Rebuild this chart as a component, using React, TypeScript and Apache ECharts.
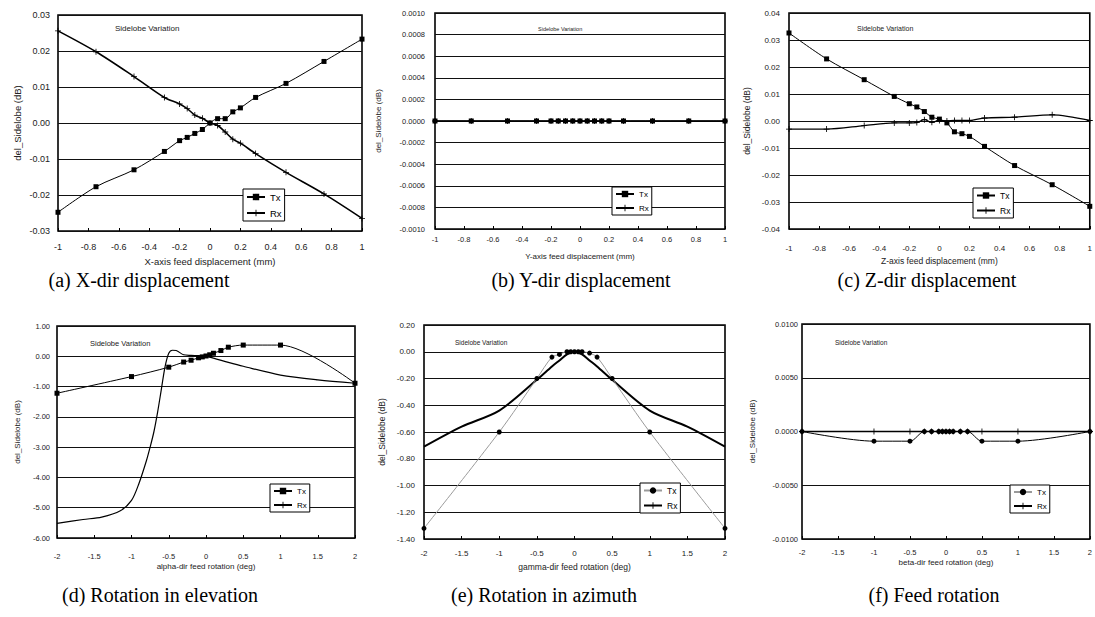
import React, { useEffect, useRef } from 'react';
import * as echarts from 'echarts';

// ---------- data ----------
const xDisp = [-1, -0.75, -0.5, -0.3, -0.2, -0.15, -0.1, -0.05, 0, 0.05, 0.1, 0.15, 0.2, 0.3, 0.5, 0.75, 1];
const aTx = [-0.0248, -0.0177, -0.013, -0.0079, -0.0049, -0.004, -0.0029, -0.0018, 0.0, 0.0012, 0.0012, 0.0031, 0.0042, 0.0071, 0.011, 0.0171, 0.0233];
const aRx = [0.0256, 0.0198, 0.0129, 0.0071, 0.0053, 0.004, 0.0022, 0.0013, 0.0, -0.0007, -0.0025, -0.0045, -0.0056, -0.0085, -0.0137, -0.0197, -0.0265];
const bTx = [0, 0, 0, 0, 0, 0, 0, 0, 0, 0, 0, 0, 0, 0, 0, 0, 0];
const bRx = [0, 0, 0, 0, 0, 0, 0, 0, 0, 0, 0, 0, 0, 0, 0, 0, 0];
const cTx = [0.0326, 0.023, 0.0153, 0.0091, 0.0064, 0.0052, 0.0035, 0.0014, 0.0007, -0.0007, -0.004, -0.0047, -0.0057, -0.0094, -0.0165, -0.0236, -0.0316];
const cRx = [-0.003, -0.003, -0.0017, -0.0007, -0.0007, -0.0006, 0.0005, -0.0005, 0.0002, 0.0, 0.0002, 0.0002, 0.0002, 0.0011, 0.0014, 0.0023, 0.0002];

const xRot = [-2, -1, -0.5, -0.3, -0.2, -0.1, -0.05, 0, 0.05, 0.1, 0.2, 0.3, 0.5, 1, 2];
const dTx = [-1.22, -0.67, -0.36, -0.19, -0.13, -0.05, -0.02, 0.01, 0.05, 0.1, 0.19, 0.3, 0.37, 0.37, -0.89];
const dRxX = [-2, -1.65, -1.4, -1.15, -1, -0.9, -0.8, -0.75, -0.7, -0.65, -0.6, -0.55, -0.5, -0.45, -0.4, -0.3, -0.2, -0.1, 0, 0.1, 0.3, 0.5, 1, 1.5, 2];
const dRx = [-5.52, -5.39, -5.31, -5.1, -4.76, -4.2, -3.45, -3.0, -2.5, -1.85, -1.1, -0.35, 0.1, 0.2, 0.19, 0.05, 0.03, 0.02, 0.0, -0.06, -0.2, -0.33, -0.62, -0.78, -0.89];
const eTx = [-1.32, -0.6, -0.2, -0.04, -0.02, 0, 0, 0, 0, 0, -0.01, -0.04, -0.2, -0.6, -1.32];
const eRxX = [-2, -1.5, -1, -0.5, -0.3, -0.2, -0.1, 0, 0.1, 0.2, 0.3, 0.5, 1, 1.5, 2];
const eRx = [-0.71, -0.56, -0.44, -0.21, -0.11, -0.065, -0.02, 0, -0.02, -0.065, -0.11, -0.21, -0.44, -0.56, -0.71];
const fTx = [0, -0.0009, -0.0009, 0, 0, 0, 0, 0, 0, 0, 0, 0, -0.0009, -0.0009, 0];
const fRx = [0, 0, 0, 0, 0, 0, 0, 0, 0, 0, 0, 0, 0, 0, 0];

const xTitles = [
  'X-axis feed displacement (mm)',
  'Y-axis feed displacement (mm)',
  'Z-axis feed displacement (mm)',
  'alpha-dir feed rotation (deg)',
  'gamma-dir feed rotation (deg)',
  'beta-dir feed rotation (deg)',
];
const yTitle = 'del_Sidelobe (dB)';
const captions = [
  '(a) X-dir displacement',
  '(b) Y-dir displacement',
  '(c) Z-dir displacement',
  '(d) Rotation in elevation',
  '(e) Rotation in azimuth',
  '(f) Feed rotation',
];
const noteText = 'Sidelobe Variation';

// ---------- layout ----------
const PLUS = 'path://M0,4.3H10V5.7H0ZM4.3,0H5.7V10H4.3Z';
const SANS = 'Liberation Sans';

const mk = (xs: number[], ys: number[]) => xs.map((x, i) => [x, ys[i]]);

const panels = [
  { grid: { left: 58, top: 15, width: 304, height: 216 }, x: [-1, 1, 0.2], y: [-0.03, 0.03, 0.01], dec: 2, font: 9, xlm: 11, ylm: 8, xng: 25, ytx: 18,
    legend: [243, 189], note: [115, 28, 8], cap: [139, 280],
    tx: mk(xDisp, aTx), rx: mk(xDisp, aRx), txSym: 'rect', txName: 'Tx', rxSym: true, txColor: '#000', rxW: 1.6 },
  { grid: { left: 435, top: 13, width: 290, height: 216 }, x: [-1, 1, 0.2], y: [-0.001, 0.001, 0.0002], dec: 4, font: 7.5, xlm: 6, ylm: 10, xng: 23, ytx: 378,
    legend: [612, 187], note: [538, 29, 5.5], cap: [581, 280],
    tx: mk(xDisp, bTx), rx: mk(xDisp, bRx), txSym: 'rect', txName: 'Tx', rxSym: true, txColor: '#000', rxW: 1.6 },
  { grid: { left: 789, top: 13, width: 303, height: 216 }, x: [-1, 1, 0.2], y: [-0.04, 0.04, 0.01], dec: 2, font: 8, xlm: 15, ylm: 9, xng: 27, ytx: 747,
    legend: [973, 188], note: [857, 28, 7], cap: [927, 280],
    tx: mk(xDisp, cTx), rx: mk(xDisp, cRx), txSym: 'rect', txName: 'Tx', rxSym: true, txColor: '#000', rxW: 1.3 },
  { grid: { left: 57, top: 326, width: 298, height: 212 }, x: [-2, 2, 0.5], y: [-6, 1, 1], dec: 2, font: 7.5, xlm: 14, ylm: 7, xng: 24, ytx: 17,
    legend: [270, 484], note: [90, 343, 7.5], cap: [160, 595],
    tx: mk(xRot, dTx), rx: mk(dRxX, dRx), txSym: 'rect', txName: 'Tx', rxSym: false, txColor: '#000', rxW: 1.2 },
  { grid: { left: 424, top: 325, width: 301, height: 214 }, x: [-2, 2, 0.5], y: [-1.4, 0.2, 0.2], dec: 2, font: 8, xlm: 10, ylm: 9, xng: 23, ytx: 382,
    legend: [640, 483], note: [455, 342, 6.5], cap: [544, 595],
    tx: mk(xRot, eTx), rx: mk(eRxX, eRx), txSym: 'circle', txName: 'Tx-c', rxSym: false, txColor: '#9a9a9a', rxW: 2 },
  { grid: { left: 802, top: 324, width: 290, height: 215 }, x: [-2, 2, 0.5], y: [-0.01, 0.01, 0.005], dec: 4, font: 7.5, xlm: 9, ylm: 4, xng: 19, ytx: 752,
    legend: [1010, 485], note: [835, 342, 6.5], cap: [934, 595],
    tx: mk(xRot, fTx), rx: mk(xRot, fRx), txSym: 'circle', txName: 'Tx-c', rxSym: true, txColor: '#000', rxW: 1.4 },
];

export default function App() {
  const ref = useRef<HTMLDivElement>(null);
  useEffect(() => {
    if (!ref.current) return;
    const chart = echarts.init(ref.current, undefined, { renderer: 'svg' });

    const grid: any[] = [];
    const xAxis: any[] = [];
    const yAxis: any[] = [];
    const series: any[] = [];
    const legend: any[] = [];
    const graphic: any[] = [];

    panels.forEach((p, i) => {
      grid.push({ ...p.grid, show: true, borderColor: '#000', borderWidth: 1.6, backgroundColor: '#fff' });
      xAxis.push({
        type: 'value', gridIndex: i, min: p.x[0], max: p.x[1], interval: p.x[2],
        name: xTitles[i], nameLocation: 'middle', nameGap: p.xng,
        nameTextStyle: { fontFamily: SANS, fontSize: p.font + 0.5, color: '#222' },
        axisLine: { show: false, onZero: false },
        axisTick: { show: true, inside: true, length: 3, lineStyle: { color: '#000' } },
        axisLabel: { fontFamily: SANS, fontSize: p.font, color: '#222', margin: p.xlm },
        splitLine: { show: false },
      });
      const dec = p.dec;
      const yFont = p.font + 0.5;
      yAxis.push({
        type: 'value', gridIndex: i, min: p.y[0], max: p.y[1], interval: p.y[2],
        name: yTitle, nameLocation: 'middle', nameGap: p.grid.left - p.ytx - yFont / 2,
        nameTextStyle: { fontFamily: SANS, fontSize: yFont, color: '#222' },
        axisLine: { show: false, onZero: false },
        axisTick: { show: false },
        axisLabel: {
          fontFamily: SANS, fontSize: p.font, color: '#222', margin: p.ylm,
          formatter: (v: number) => (Math.abs(v) < 1e-12 ? 0 : v).toFixed(dec),
        },
        splitLine: { show: true, lineStyle: { color: '#111', width: 1 } },
      });
      series.push({
        type: 'line', name: p.txName, xAxisIndex: i, yAxisIndex: i, data: p.tx,
        symbol: p.txSym, symbolSize: 5, smooth: 0.3,
        lineStyle: { color: p.txColor, width: 1 }, itemStyle: { color: '#000' },
        z: 3,
      });
      series.push({
        type: 'line', name: 'Rx', xAxisIndex: i, yAxisIndex: i, data: p.rx,
        symbol: PLUS, symbolSize: 6, showSymbol: p.rxSym, smooth: 0.3,
        lineStyle: { color: '#000', width: p.rxW }, itemStyle: { color: '#000' },
        z: 2,
      });
      legend.push({
        left: p.legend[0], top: p.legend[1], orient: 'vertical',
        data: [p.txName, 'Rx'], formatter: (n: string) => n.slice(0, 2),
        itemWidth: 18, itemHeight: 8, itemGap: 6, itemTextGap: 2, padding: [3, 3, 3, 3],
        borderColor: '#000', borderWidth: 1, backgroundColor: '#fff', selectedMode: false,
        textStyle: { fontFamily: SANS, fontSize: p.font + 0.5, color: '#000' },
      });
      graphic.push({
        type: 'text', x: p.note[0], y: p.note[1], z: 10,
        style: { text: noteText, fontFamily: SANS, fontSize: p.note[2], fill: '#222', align: 'left', verticalAlign: 'middle' },
      });
      graphic.push({
        type: 'text', x: p.cap[0], y: p.cap[1], z: 10,
        style: { text: captions[i], fontFamily: 'Liberation Serif', fontSize: 20, fill: '#000', align: 'center', verticalAlign: 'middle' },
      });
    });

    chart.setOption({
      animation: false,
      backgroundColor: '#fff',
      grid, xAxis, yAxis, series, legend, graphic,
    });
    return () => chart.dispose();
  }, []);
  return <div ref={ref} style={{ position: 'absolute', left: 0, top: 0, width: 1095, height: 617 }} />;
}
